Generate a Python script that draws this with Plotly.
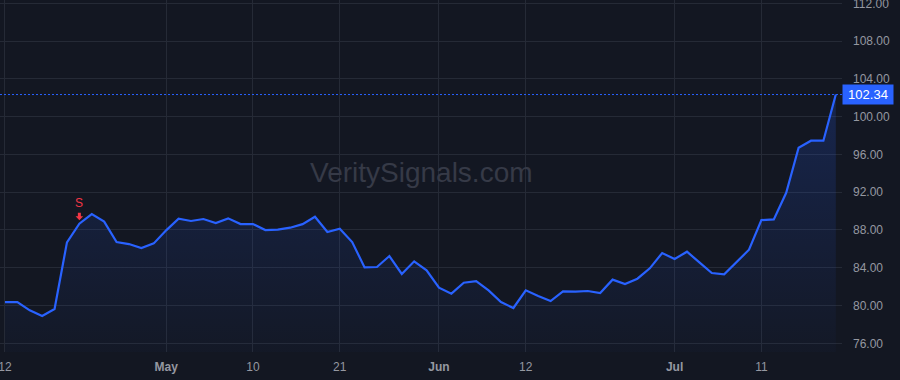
import plotly.graph_objects as go

# ---- data -------------------------------------------------------------
dates = [
    "2024-04-12", "2024-04-15", "2024-04-16", "2024-04-17", "2024-04-18", "2024-04-19",
    "2024-04-22", "2024-04-23", "2024-04-24", "2024-04-25", "2024-04-26", "2024-04-29",
    "2024-04-30", "2024-05-01", "2024-05-02", "2024-05-03", "2024-05-06", "2024-05-07",
    "2024-05-08", "2024-05-09", "2024-05-10", "2024-05-13", "2024-05-14", "2024-05-15",
    "2024-05-16", "2024-05-17", "2024-05-20", "2024-05-21", "2024-05-22", "2024-05-23",
    "2024-05-24", "2024-05-28", "2024-05-29", "2024-05-30", "2024-05-31", "2024-06-03",
    "2024-06-04", "2024-06-05", "2024-06-06", "2024-06-07", "2024-06-10", "2024-06-11",
    "2024-06-12", "2024-06-13", "2024-06-14", "2024-06-17", "2024-06-18", "2024-06-20",
    "2024-06-21", "2024-06-24", "2024-06-25", "2024-06-26", "2024-06-27", "2024-06-28",
    "2024-07-01", "2024-07-02", "2024-07-03", "2024-07-05", "2024-07-08", "2024-07-09",
    "2024-07-10", "2024-07-11", "2024-07-12", "2024-07-15", "2024-07-16", "2024-07-17",
    "2024-07-18", "2024-07-19",
]
prices = [
    80.37, 80.37, 79.49, 78.90, 79.63, 86.69, 88.66, 89.69, 88.88, 86.72,
    86.51, 86.09, 86.58, 87.96, 89.19, 88.95, 89.16, 88.73, 89.23, 88.63,
    88.63, 87.99, 88.03, 88.24, 88.62, 89.40, 87.78, 88.13, 86.72, 84.04,
    84.08, 85.24, 83.34, 84.68, 83.72, 81.89, 81.26, 82.42, 82.59, 81.61,
    80.37, 79.74, 81.61, 81.00, 80.48, 81.50, 81.47, 81.54, 81.33, 82.74,
    82.28, 82.84, 83.94, 85.56, 84.92, 85.70, 84.57, 83.44, 83.30, 84.60,
    85.91, 89.05, 89.12, 91.94, 96.71, 97.45, 97.45, 102.34,
]
tick_dates = ["2024-04-12", "2024-05-01", "2024-05-10", "2024-05-21",
              "2024-06-03", "2024-06-12", "2024-07-01", "2024-07-11"]
tick_labels = ["12", "<b>May</b>", "10", "21", "<b>Jun</b>", "12", "<b>Jul</b>", "11"]
y_ticks = [76, 80, 84, 88, 92, 96, 100, 104, 108, 112]
signal_date = "2024-04-22"
signal_text = "S"
last_price = prices[-1]
watermark = "VeritySignals.com"

# ---- style ------------------------------------------------------------
BG = "#131722"
GRID = "#252a36"
LINE = "#2962ff"
TXT = "#9598a1"
RED = "#f23645"
FONT = "Liberation Sans, Arial, sans-serif"

fig = go.Figure()
fig.add_trace(go.Scatter(
    x=dates, y=prices, mode="lines",
    line=dict(color=LINE, width=2.2),
    fill="tozeroy",
    fillgradient=dict(
        type="vertical",
        colorscale=[[0, "rgba(41,98,255,0.02)"], [1, "rgba(41,98,255,0.20)"]],
        start=75, stop=103,
    ),
    hoverinfo="skip",
))

sig_y = prices[dates.index(signal_date)]

# down-arrow glyph, in pixels relative to the signal point (y up)
arrow_path = "M0,3.5 L3.8,7.5 L1.5,7.5 L1.5,11 L-1.5,11 L-1.5,7.5 L-3.8,7.5 Z"

fig.update_layout(
    width=900, height=380,
    margin=dict(l=0, r=58, t=0, b=28, autoexpand=False),
    paper_bgcolor=BG, plot_bgcolor=BG,
    showlegend=False,
    font=dict(family=FONT, size=12, color=TXT),
    xaxis=dict(
        type="category",
        categoryorder="array", categoryarray=dates,
        range=[-0.4, 67.5],
        tickmode="array", tickvals=tick_dates, ticktext=tick_labels,
        showgrid=True, gridcolor=GRID, gridwidth=1,
        zeroline=False, showline=False, ticks="",
        tickfont=dict(size=12, color=TXT),
        ticklabelstandoff=6,
        automargin=False,
    ),
    yaxis=dict(
        side="right",
        range=[75.08, 112.35],
        tickmode="array", tickvals=y_ticks,
        tickformat=".2f",
        showgrid=True, gridcolor=GRID, gridwidth=1,
        zeroline=False, showline=False, ticks="",
        tickfont=dict(size=12, color=TXT),
        ticklabelstandoff=10,
        ticklabeloverflow="allow",
        automargin=False,
    ),
    shapes=[
        dict(
            type="line", xref="paper", x0=0, x1=1, yref="y", y0=last_price, y1=last_price,
            line=dict(color=LINE, width=1, dash="2px,2px"),
        ),
        dict(
            type="path", xref="x", yref="y",
            xsizemode="pixel", ysizemode="pixel",
            xanchor=signal_date, yanchor=sig_y,
            path=arrow_path, fillcolor=RED, line=dict(width=0),
        ),
    ],
    annotations=[
        dict(
            text=watermark, xref="paper", yref="paper", x=0.5, y=0.511,
            xanchor="center", yanchor="middle", showarrow=False,
            font=dict(family=FONT, size=28, color="#363a47"),
        ),
        dict(
            text=f"{last_price:.2f}", xref="paper", yref="y", x=1, y=last_price,
            xanchor="left", yanchor="middle", showarrow=False,
            bgcolor=LINE, borderpad=2,
            font=dict(family=FONT, size=13, color="#ffffff"),
            width=46,
        ),
        dict(
            text=signal_text, x=signal_date, y=sig_y, xref="x", yref="y",
            showarrow=False, yshift=21, xanchor="center", yanchor="middle",
            font=dict(family=FONT, size=12, color=RED),
        ),
    ],
)

fig.write_html("out.html")
